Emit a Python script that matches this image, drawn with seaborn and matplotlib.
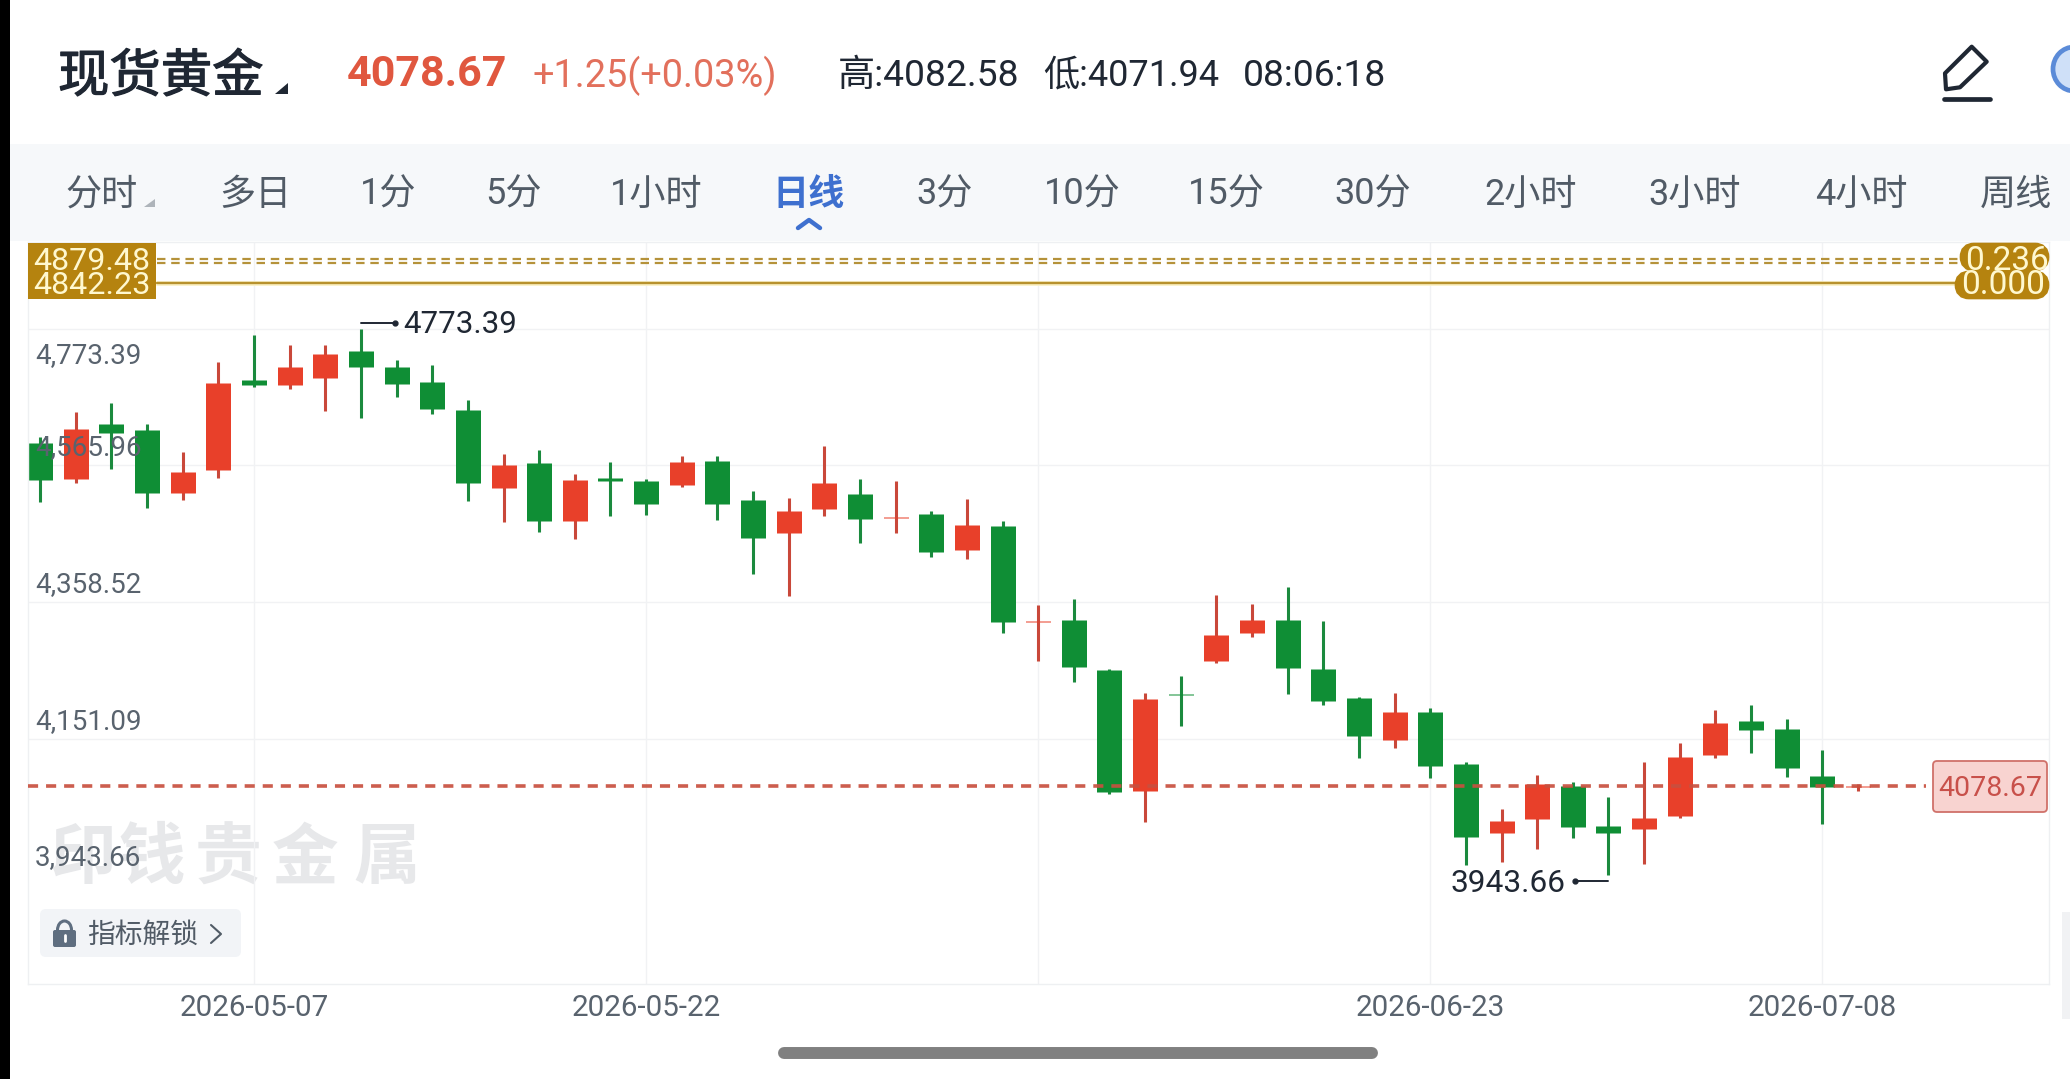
import numpy as np
import pandas as pd
import matplotlib
matplotlib.use("Agg")
import matplotlib.pyplot as plt
import matplotlib.patheffects as pe
from matplotlib.patches import FancyBboxPatch, Polygon, Rectangle, Ellipse
import seaborn as sns

sns.set_theme(style="white")
plt.rcParams["font.family"] = ["Roboto", "Noto Sans CJK SC", "DejaVu Sans"]

# Daily candles, oldest first
opens = [4599.3, 4544.7, 4628.6, 4620.0, 4523.9, 4558.3, 4695.4, 4687.3, 4698.4, 4739.9,
         4715.1, 4692.4, 4649.4, 4532.0, 4568.9, 4481.9, 4546.7, 4541.6, 4535.6, 4572.0,
         4512.8, 4463.7, 4499.6, 4522.4, 4486.5, 4492.0, 4438.0, 4473.8, 4328.2, 4330.7,
         4255.8, 4071.7, 4219.4, 4268.5, 4311.5, 4331.2, 4256.4, 4212.8, 4149.6, 4192.1,
         4113.2, 4007.5, 4029.2, 4079.8, 4018.6, 4013.5, 4034.3, 4126.3, 4178.0, 4166.3,
         4094.9, 4077.42]
closes = [4543.6, 4621.6, 4615.5, 4523.9, 4555.8, 4690.3, 4688.3, 4715.1, 4734.9, 4715.1,
          4688.8, 4650.9, 4538.6, 4565.9, 4481.9, 4543.6, 4542.6, 4507.2, 4570.4, 4507.2,
          4456.2, 4496.6, 4539.6, 4484.5, 4488.0, 4434.4, 4475.4, 4328.2, 4329.7, 4260.4,
          4070.7, 4211.3, 4217.4, 4308.4, 4330.7, 4257.9, 4208.8, 4155.7, 4192.1, 4109.6,
          4001.4, 4026.7, 4081.8, 4016.6, 4008.0, 4031.3, 4123.8, 4174.9, 4164.3, 4106.6,
          4078.3, 4078.67]
highs = [4609.4, 4646.3, 4660.0, 4628.6, 4586.1, 4722.2, 4764.2, 4748.5, 4748.0, 4773.39,
         4726.2, 4718.2, 4664.5, 4583.6, 4588.7, 4552.3, 4570.4, 4545.7, 4579.6, 4580.1,
         4527.5, 4515.8, 4595.2, 4545.7, 4541.6, 4496.1, 4514.8, 4481.4, 4353.5, 4363.0,
         4257.4, 4219.9, 4246.2, 4369.1, 4355.0, 4381.8, 4329.7, 4213.8, 4219.9, 4198.2,
         4115.2, 4044.4, 4096.0, 4085.9, 4063.1, 4115.7, 4144.0, 4195.1, 4202.7, 4180.5,
         4133.4, 4082.58]
lows = [4510.8, 4539.6, 4560.8, 4500.7, 4513.8, 4547.2, 4685.3, 4682.3, 4648.4, 4638.2,
        4669.6, 4644.3, 4511.8, 4480.4, 4465.2, 4454.1, 4489.0, 4491.0, 4533.5, 4483.0,
        4401.5, 4367.1, 4489.5, 4448.0, 4463.2, 4426.8, 4424.3, 4312.0, 4269.5, 4237.1,
        4067.7, 4025.2, 4170.9, 4266.5, 4305.9, 4219.4, 4202.2, 4122.3, 4137.0, 4091.4,
        3959.4, 3964.5, 3983.7, 4000.9, 3943.66, 3960.9, 4031.3, 4121.8, 4128.9, 4093.0,
        4022.1, 4071.94]

grid_prices = [4773.39, 4565.96, 4358.52, 4151.09]
price_labels = ["4,773.39", "4,565.96", "4,358.52", "4,151.09", "3,943.66"]
label_prices = [4773.39, 4565.96, 4358.52, 4151.09, 3943.66]
date_positions = [6, 17, 28, 39, 50]
date_labels = ["2026-05-07", "2026-05-22", "", "2026-06-23", "2026-07-08"]

fib_price = 4879.48
fib_price_lower_rule = 4873.0
base_price = 4842.23
last_price = 4078.67
period_high = 4773.39
period_low = 3943.66

tabs = ["分时", "多日", "1分", "5分", "1小时", "日线", "3分", "10分", "15分", "30分",
        "2小时", "3小时", "4小时", "周线"]
tab_centres = [102, 255, 388, 513, 656, 809, 945, 1082, 1226, 1373, 1531, 1695, 1861, 2016]

RED, GREEN = "#E8402A", "#0F8E35"
WICK = {"up": "#C9483A", "down": "#1B8A3E"}
BODY = {"up": RED, "down": GREEN}
GOLD = "#B5830F"
INK = "#1F2733"
GREY_TEXT = "#59636E"

W, H = 2070, 1079
fig = plt.figure(figsize=(W / 100, H / 100), dpi=100, facecolor="white")


def pixel_axes(z):
    a = fig.add_axes([0, 0, 1, 1], zorder=z)
    a.set_xlim(0, W)
    a.set_ylim(H, 0)
    a.axis("off")
    a.patch.set_alpha(0)
    return a


back = pixel_axes(0)
front = pixel_axes(3)

# App chrome behind the chart
back.add_patch(Rectangle((0, 144), W, 97, color="#F6F8FA", lw=0))

# Watermark characters
for ch, cx in zip("印钱贵金属", [83, 152, 228, 305, 387]):
    back.text(cx, 859, ch, fontsize=48, fontweight="bold", color="#E7E8EA",
              ha="center", va="center", family=["Noto Sans CJK SC", "DejaVu Sans"])

# Price panel
L, R, T, B = 28, 2049, 241.6, 984
ax = fig.add_axes([L / W, 1 - B / H, (R - L) / W, (B - T) / H], zorder=1)
ax.patch.set_alpha(0)

candles = pd.DataFrame({"day": np.arange(len(opens)), "open": opens, "close": closes,
                        "high": highs, "low": lows})
candles["direction"] = np.where(candles["close"] >= candles["open"], "up", "down")

wicks = candles.melt(id_vars=["day", "direction"], value_vars=["high", "low"], value_name="price")
bodies = candles.melt(id_vars=["day", "direction"], value_vars=["open", "close"], value_name="price")

sns.lineplot(data=wicks, x="day", y="price", hue="direction", units="day", estimator=None,
             palette=WICK, linewidth=2.2, solid_capstyle="butt", sort=False, legend=False,
             ax=ax, zorder=2)
sns.lineplot(data=bodies, x="day", y="price", hue="direction", units="day", estimator=None,
             palette=BODY, linewidth=18, solid_capstyle="butt", sort=False, legend=False,
             ax=ax, zorder=2.1)

ax.set_xlim(-0.342, 56.36)
ax.set_ylim(3778.8, 4905.4)
ax.set_xlabel("")
ax.set_ylabel("")
ax.set_xticks(date_positions, date_labels)
ax.set_yticks(grid_prices, [""] * len(grid_prices))
ax.tick_params(axis="x", length=0, pad=7, labelsize=21.3, labelcolor=GREY_TEXT)
ax.tick_params(axis="y", length=0)
ax.grid(True, color="#F1F2F4", linewidth=1)
ax.set_axisbelow(True)
for s in ax.spines.values():
    s.set_color("#EEF0F2")
    s.set_linewidth(1)

# Retracement rules
x0, x1 = (157 - L) / (R - L), (1958 - L) / (R - L)
for level in (fib_price, fib_price_lower_rule):
    ax.axhline(level, x0, x1, color="#B5923A", linewidth=1.6, linestyle=(0, (3.8, 2.6)), zorder=2.5)
ax.axhline(base_price, x0, x1, color="#FBF0C4", linewidth=3.4, zorder=2.4)
ax.axhline(base_price, x0, x1, color="#B8922E", linewidth=1.7, zorder=2.5)

# Last price rule
ax.axhline(last_price, 0, (1926 - L) / (R - L), color="#C8503F", alpha=0.92, linewidth=2.6,
           linestyle=(0, (2.8, 2.2)), zorder=2.6)

# Price scale labels, printed over the candles
for text, price in zip(price_labels, label_prices):
    dy = -27 if price == grid_prices[0] else 17.5
    ax.annotate(text, xy=(0, price), xycoords=ax.get_yaxis_transform(),
                xytext=(7, dy), textcoords="offset pixels", ha="left", va="center",
                fontsize=20, color=GREY_TEXT, zorder=3, annotation_clip=False)

# High and low callouts
ax.annotate(f"{period_high:.2f}", xy=(9, period_high), xytext=(42, 4), textcoords="offset pixels",
            fontsize=22.5, color=INK, ha="left", va="center", zorder=3)
ax.annotate(f"{period_low:.2f}", xy=(44, period_low), xytext=(-43, -8), textcoords="offset pixels",
            fontsize=22.8, color=INK, ha="right", va="center", zorder=3)
front.plot([361, 393], [322.5, 322.5], color=INK, lw=1.4)
front.plot([395], [322.5], "o", color=INK, ms=3.5)
front.plot([1577, 1608], [881, 881], color=INK, lw=1.4)
front.plot([1575], [881], "o", color=INK, ms=3.5)

# Fixed labels at both ends of the retracement rules
front.add_patch(Rectangle((28, 243), 128, 56, color=GOLD, lw=0))
for y, t in ((261, f"{fib_price:.2f}"), (286, f"{base_price:.2f}")):
    front.text(92, y, t, color="#FFF8CF", fontsize=23.2, ha="center", va="center")
for left, top, width in ((1968, 251, 73), (1963, 279, 78)):
    front.add_patch(FancyBboxPatch((left, top), width, 12, boxstyle="round,pad=0,rounding_size=6",
                                   fc=GOLD, ec=GOLD, lw=12))
front.text(2007, 261, "0.236", color="#FFF8CF", fontsize=24, ha="center", va="center")
front.text(2003, 285, "0.000", color="#FFF8CF", fontsize=24, ha="center", va="center")

# Last price tag
front.add_patch(FancyBboxPatch((1933, 761), 114, 51, boxstyle="round,pad=0,rounding_size=4",
                               fc="#F8D3D0", ec="#D0716A", lw=1.3))
front.text(1990, 788, f"{last_price:.2f}", color="#C8504A", fontsize=20.5, ha="center", va="center")

# Header
cjk = ["Noto Sans CJK SC", "DejaVu Sans"]
front.text(58, 77, "现货黄金", fontsize=37, color=INK, family=cjk, ha="left", va="center",
           path_effects=[pe.withStroke(linewidth=0.9, foreground=INK)])
front.add_patch(Polygon([[288, 83], [288, 94], [275, 94]], color=INK, lw=0))
front.text(347, 75, "4078.67", fontsize=31, fontweight="bold", color="#E0573F", ha="left", va="center")
front.text(532, 76, "+1.25(+0.03%)", fontsize=27.3, color="#E2705C", ha="left", va="center")
front.text(838, 76, "高:4082.58", fontsize=26.8, color=INK, ha="left", va="center")
front.text(1043, 76, "低:4071.94", fontsize=26, color=INK, ha="left", va="center")
front.text(1243, 76, "08:06:18", fontsize=26.8, color=INK, ha="left", va="center")

# Pencil and favourite icons
front.add_patch(Polygon([[1945, 73.3], [1971.7, 46.7], [1986.7, 61.7], [1960, 87.3], [1946, 89.3]],
                        closed=True, fc="white", ec=INK, lw=3, joinstyle="round"))
front.plot([1944, 1990], [98.7, 98.7], color=INK, lw=3.4, solid_capstyle="round")
front.add_patch(Ellipse((2074, 69), 42, 44, fc="#CFE0F8", ec="#5B8BD8", lw=3.4, clip_on=True))

# Timeframe tabs
for t, cx in zip(tabs, tab_centres):
    active = t == "日线"
    front.text(cx, 195, t, fontsize=26, ha="center", va="center",
               color="#3E70CF" if active else "#515B66",
               fontweight="bold" if active else "normal",
               family=["Roboto", "Noto Sans CJK SC", "DejaVu Sans"])
front.add_patch(Polygon([[155, 199], [155, 207], [144, 207]], color="#AEB4BA", lw=0))
front.plot([798, 809, 820], [228, 220, 228], color="#3E70CF", lw=3.2, solid_capstyle="round")

# Locked indicators button
front.add_patch(FancyBboxPatch((40, 909), 201, 48, boxstyle="round,pad=0,rounding_size=6",
                               fc="#F2F4F7", ec="none"))
front.add_patch(FancyBboxPatch((53, 930), 23, 17, boxstyle="round,pad=0,rounding_size=2",
                               fc="#5F6E80", ec="none"))
front.add_patch(Ellipse((64.5, 930), 14, 18, fc="none", ec="#5F6E80", lw=2.2))
front.plot([64.5, 64.5], [935, 941], color="white", lw=2)
front.text(87, 935, "指标解锁", fontsize=20, color="#515B66", family=cjk, ha="left", va="center")
front.plot([211, 221, 211], [925, 934, 943], color="#515B66", lw=1.5)

# Scroll indicator and window edges
front.plot([784, 1372], [1053, 1053], color="#808080", lw=8.6, solid_capstyle="round")
front.add_patch(Rectangle((0, 0), 10, H, color="black", lw=0))
front.add_patch(Rectangle((2062, 912), 8, 107, color="#F1F2F4", lw=0))

fig.savefig("out.png", dpi=100, facecolor="white")
